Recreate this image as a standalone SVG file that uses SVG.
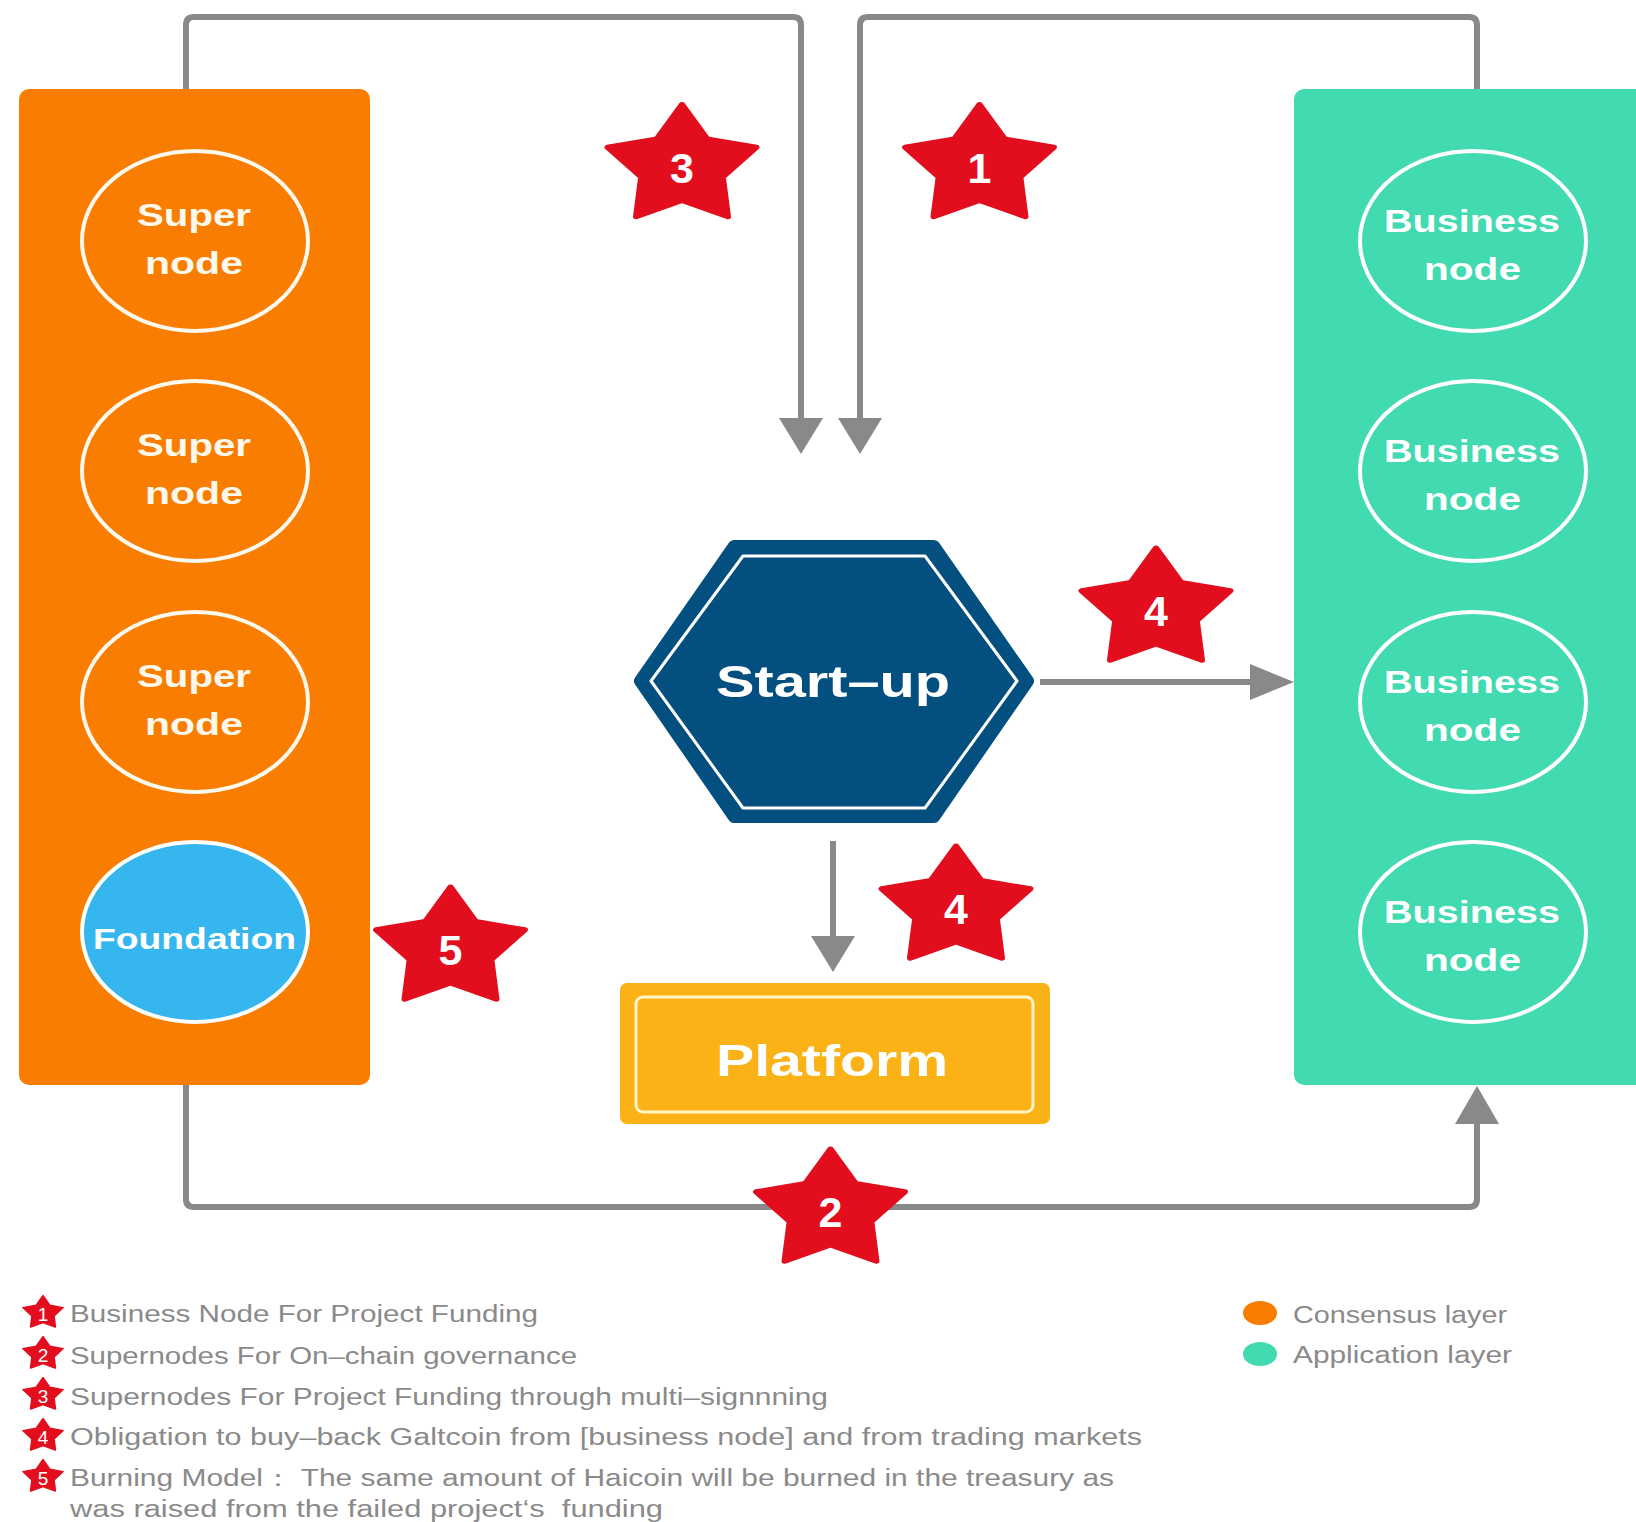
<svg xmlns="http://www.w3.org/2000/svg" xmlns:xlink="http://www.w3.org/1999/xlink" width="1636" height="1522" viewBox="0 0 1636 1522">
<style>
.conn{fill:none;stroke:#898989;stroke-width:6}
.head{fill:#898989}
.node-txt{font-family:"Liberation Sans",Arial,sans-serif;font-weight:bold;font-size:32px;fill:#ffffff}
.orange-txt{fill:#fff8ec}
.big-txt{font-family:"Liberation Sans",Arial,sans-serif;font-weight:bold;font-size:45px;fill:#ffffff}
.digit{font-family:"Liberation Sans",Arial,sans-serif;font-size:43px;font-weight:bold;fill:#ffffff;text-anchor:middle}
.ldigit{font-family:"Liberation Sans",Arial,sans-serif;font-size:19px;fill:#ffffff;text-anchor:middle}
.legend{font-family:"Liberation Sans",Arial,sans-serif;font-size:23px;fill:#8a8a8a}
.circ-o{fill:#f97d00;stroke:#fff8ec;stroke-width:4}
.circ-t{fill:#42dab0;stroke:#ffffff;stroke-width:4}
.star{fill:#e20e1e;stroke:#e20e1e;stroke-width:5;stroke-linejoin:round}
</style>
<defs>
<path id="starShape" d="M0,-62 L20,-27.5 L59,-19.2 L32.3,10.5 L36.4,50.2 L0,34 L-36.4,50.2 L-32.3,10.5 L-59,-19.2 L-20,-27.5 Z"/>
</defs>
<rect width="1636" height="1522" fill="#ffffff"/>

<g id="connectors">
<path class="conn" d="M186,89 V25 Q186,17 194,17 H793 Q801,17 801,25 V420"/>
<polygon class="head" points="779,418 823,418 801,454"/>
<path class="conn" d="M1477,89 V25 Q1477,17 1469,17 H868 Q860,17 860,25 V420"/>
<polygon class="head" points="838,418 882,418 860,454"/>
<path class="conn" d="M186,1085 V1199 Q186,1207 194,1207 H1469 Q1477,1207 1477,1199 V1122"/>
<polygon class="head" points="1455,1124 1499,1124 1477,1086"/>
<path class="conn" d="M833,841 V938"/>
<polygon class="head" points="811,936 855,936 833,972"/>
<path class="conn" d="M1040,682 H1252"/>
<polygon class="head" points="1250,664 1250,700 1294,682"/>
</g>

<g id="consensus-layer">
<rect x="19" y="89" width="351" height="996" rx="10" fill="#f97d00"/>
</g>
<g id="application-layer">
<rect x="1294" y="89" width="364" height="996" rx="10" fill="#42dab0"/>
</g>

<g id="super-node-1">
<ellipse class="circ-o" cx="195" cy="241" rx="113" ry="90"/>
<text class="node-txt orange-txt" x="137" y="226" textLength="114" lengthAdjust="spacingAndGlyphs">Super</text>
<text class="node-txt orange-txt" x="145" y="274" textLength="98" lengthAdjust="spacingAndGlyphs">node</text>
</g>
<g id="super-node-2">
<ellipse class="circ-o" cx="195" cy="471" rx="113" ry="90"/>
<text class="node-txt orange-txt" x="137" y="456" textLength="114" lengthAdjust="spacingAndGlyphs">Super</text>
<text class="node-txt orange-txt" x="145" y="504" textLength="98" lengthAdjust="spacingAndGlyphs">node</text>
</g>
<g id="super-node-3">
<ellipse class="circ-o" cx="195" cy="702" rx="113" ry="90"/>
<text class="node-txt orange-txt" x="137" y="687" textLength="114" lengthAdjust="spacingAndGlyphs">Super</text>
<text class="node-txt orange-txt" x="145" y="735" textLength="98" lengthAdjust="spacingAndGlyphs">node</text>
</g>
<g id="foundation">
<ellipse cx="195" cy="932" rx="113" ry="90" fill="#35b6ee" stroke="#ffffff" stroke-width="4"/>
<text class="node-txt" style="font-size:30px" x="93" y="949" textLength="203" lengthAdjust="spacingAndGlyphs">Foundation</text>
</g>

<g id="business-node-1">
<ellipse class="circ-t" cx="1473" cy="241" rx="113" ry="90"/>
<text class="node-txt" x="1384" y="232" textLength="176" lengthAdjust="spacingAndGlyphs">Business</text>
<text class="node-txt" x="1424" y="280" textLength="97" lengthAdjust="spacingAndGlyphs">node</text>
</g>
<g id="business-node-2">
<ellipse class="circ-t" cx="1473" cy="471" rx="113" ry="90"/>
<text class="node-txt" x="1384" y="462" textLength="176" lengthAdjust="spacingAndGlyphs">Business</text>
<text class="node-txt" x="1424" y="510" textLength="97" lengthAdjust="spacingAndGlyphs">node</text>
</g>
<g id="business-node-3">
<ellipse class="circ-t" cx="1473" cy="702" rx="113" ry="90"/>
<text class="node-txt" x="1384" y="693" textLength="176" lengthAdjust="spacingAndGlyphs">Business</text>
<text class="node-txt" x="1424" y="741" textLength="97" lengthAdjust="spacingAndGlyphs">node</text>
</g>
<g id="business-node-4">
<ellipse class="circ-t" cx="1473" cy="932" rx="113" ry="90"/>
<text class="node-txt" x="1384" y="923" textLength="176" lengthAdjust="spacingAndGlyphs">Business</text>
<text class="node-txt" x="1424" y="971" textLength="97" lengthAdjust="spacingAndGlyphs">node</text>
</g>

<g id="start-up">
<polygon points="640,681 734,546 934,546 1028,681 934,817 734,817" fill="#034f7f" stroke="#034f7f" stroke-width="12" stroke-linejoin="round"/>
<polygon points="651,681 743,556 925,556 1017,681 925,808 743,808" fill="none" stroke="#ffffff" stroke-width="3" stroke-linejoin="round"/>
<text class="big-txt" x="716" y="697" textLength="234" lengthAdjust="spacingAndGlyphs">Start–up</text>
</g>

<g id="platform">
<rect x="620" y="983" width="430" height="141" rx="7" fill="#fbb217"/>
<rect x="636" y="997" width="397" height="115" rx="7" fill="none" stroke="#fff3c8" stroke-width="3"/>
<text class="big-txt" x="716" y="1076" textLength="232" lengthAdjust="spacingAndGlyphs">Platform</text>
</g>

<g id="star-3">
<use xlink:href="#starShape" href="#starShape" class="star" transform="translate(682,166.5) scale(1.26,1)"/>
<text class="digit" x="682" y="183">3</text>
</g>
<g id="star-1">
<use xlink:href="#starShape" href="#starShape" class="star" transform="translate(979.5,166.5) scale(1.26,1)"/>
<text class="digit" x="979.5" y="183">1</text>
</g>
<g id="star-4a">
<use xlink:href="#starShape" href="#starShape" class="star" transform="translate(1156,610) scale(1.26,1)"/>
<text class="digit" x="1156" y="626">4</text>
</g>
<g id="star-4b">
<use xlink:href="#starShape" href="#starShape" class="star" transform="translate(956,908) scale(1.26,1)"/>
<text class="digit" x="956" y="924">4</text>
</g>
<g id="star-5">
<use xlink:href="#starShape" href="#starShape" class="star" transform="translate(450.5,949) scale(1.26,1)"/>
<text class="digit" x="450.5" y="965">5</text>
</g>
<g id="star-2">
<use xlink:href="#starShape" href="#starShape" class="star" transform="translate(830.5,1211) scale(1.26,1)"/>
<text class="digit" x="830.5" y="1227">2</text>
</g>

<g id="legend">
<use xlink:href="#starShape" href="#starShape" class="star" transform="translate(43,1313) scale(0.34,0.28)"/>
<text class="ldigit" x="43" y="1321">1</text>
<text class="legend" x="70" y="1322" textLength="468" lengthAdjust="spacingAndGlyphs">Business Node For Project Funding</text>
<use xlink:href="#starShape" href="#starShape" class="star" transform="translate(43,1354) scale(0.34,0.28)"/>
<text class="ldigit" x="43" y="1362">2</text>
<text class="legend" x="70" y="1364" textLength="507" lengthAdjust="spacingAndGlyphs">Supernodes For On–chain governance</text>
<use xlink:href="#starShape" href="#starShape" class="star" transform="translate(43,1395) scale(0.34,0.28)"/>
<text class="ldigit" x="43" y="1403">3</text>
<text class="legend" x="70" y="1405" textLength="758" lengthAdjust="spacingAndGlyphs">Supernodes For Project Funding through multi–signnning</text>
<use xlink:href="#starShape" href="#starShape" class="star" transform="translate(43,1436) scale(0.34,0.28)"/>
<text class="ldigit" x="43" y="1444">4</text>
<text class="legend" x="70" y="1445" textLength="1072" lengthAdjust="spacingAndGlyphs">Obligation to buy–back Galtcoin from [business node] and from trading markets</text>
<use xlink:href="#starShape" href="#starShape" class="star" transform="translate(43,1477) scale(0.34,0.28)"/>
<text class="ldigit" x="43" y="1485">5</text>
<text class="legend" x="70" y="1486" textLength="1044" lengthAdjust="spacingAndGlyphs">Burning Model： The same amount of Haicoin will be burned in the treasury as</text>
<text class="legend" x="70" y="1517" textLength="593" lengthAdjust="spacingAndGlyphs" xml:space="preserve">was raised from the failed project‘s  funding</text>
<ellipse cx="1260" cy="1313" rx="17" ry="12" fill="#f97d00"/>
<text class="legend" x="1293" y="1323" textLength="214" lengthAdjust="spacingAndGlyphs">Consensus layer</text>
<ellipse cx="1260" cy="1354" rx="17" ry="12" fill="#42dab0"/>
<text class="legend" x="1293" y="1363" textLength="219" lengthAdjust="spacingAndGlyphs">Application layer</text>
</g>
</svg>
